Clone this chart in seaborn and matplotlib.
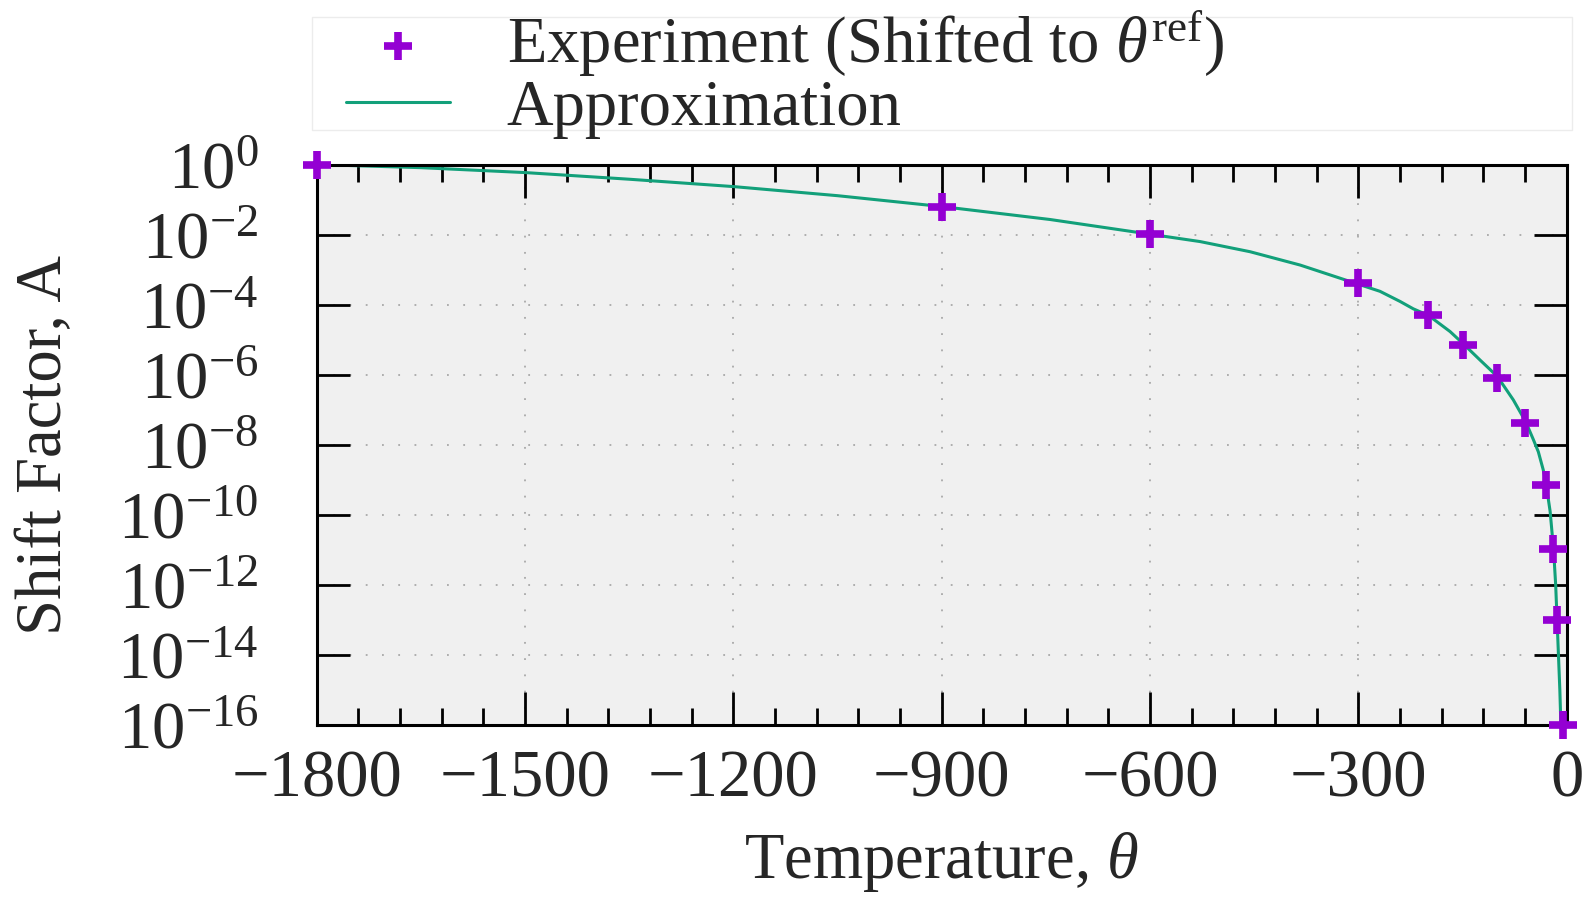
"""Shift factor vs temperature: experiment points and approximation curve."""

import matplotlib
matplotlib.use("Agg")
import matplotlib.pyplot as plt
import matplotlib.ticker as mticker
import numpy as np
import seaborn as sns
from matplotlib.patches import Rectangle

# experiment (shifted to theta_ref)
theta_exp = [-1800, -900, -600, -300, -200, -150, -100, -60, -30, -20, -14, -5]
log_a_exp = [0.0, -1.20, -1.99, -3.39, -4.30, -5.15, -6.10, -7.38, -9.14, -10.99, -13.0, -16.0]

# approximation curve, points
theta_fit = [-1800, -1650, -1500, -1350, -1200, -1050, -900, -744, -600, -528,
             -456, -384, -312, -269, -240, -221, -199, -168, -149, -125,
             -100, -77, -59, -48, -41, -34, -30, -24, -19, -16,
             -14, -12, -10, -8.5]
log_a_fit = [0.0, -0.09, -0.23, -0.42, -0.63, -0.89, -1.20, -1.57, -1.99, -2.20,
             -2.49, -2.87, -3.34, -3.62, -3.91, -4.12, -4.31, -4.77, -5.12, -5.58,
             -6.05, -6.72, -7.35, -7.86, -8.20, -8.71, -9.10, -9.90, -11.0, -12.0,
             -13.0, -14.0, -15.0, -16.0]

x_major = [-1800, -1500, -1200, -900, -600, -300, 0]
y_exp = list(range(0, -17, -2))

sns.set_style("ticks")
plt.rcParams["font.family"] = ["Liberation Serif", "DejaVu Serif"]
plt.rcParams["mathtext.fontset"] = "custom"
plt.rcParams["mathtext.rm"] = "Liberation Serif"
plt.rcParams["mathtext.it"] = "Liberation Serif:italic"
plt.rcParams["axes.unicode_minus"] = True

FS = 46.5
FS_TICK = 48
PURPLE = "#9400d3"
GREEN = "#12a07a"

fig = plt.figure(figsize=(15.9, 8.98), dpi=100)
ax = fig.add_axes([0.1992, 0.1927, 0.7862, 0.6241])
ax.set_facecolor("#f0f0f0")

a_exp = 10.0 ** np.array(log_a_exp)
a_fit = 10.0 ** np.array(log_a_fit)

sns.lineplot(x=theta_fit, y=a_fit, ax=ax, color=GREEN, lw=2.2, sort=False,
             estimator=None, label="Approximation", zorder=3)
sns.scatterplot(x=theta_exp, y=a_exp, ax=ax, marker="+", s=420, linewidth=5.5,
                color=PURPLE, label=r"Experiment (Shifted to $\theta^{\mathrm{ref}}$)",
                zorder=6, clip_on=False)

ax.set_yscale("log")
ax.set_xlim(-1800, 0)
ax.set_ylim(1e-16, 1)

ax.xaxis.set_major_locator(mticker.FixedLocator(x_major))
ax.xaxis.set_minor_locator(mticker.MultipleLocator(60))
ax.yaxis.set_major_locator(mticker.FixedLocator([10.0 ** e for e in y_exp]))
ax.yaxis.set_minor_locator(mticker.NullLocator())
ax.yaxis.set_major_formatter(mticker.LogFormatterMathtext())

ax.tick_params(which="both", direction="in", top=True, right=True, color="black",
               width=2, labelsize=FS_TICK)
ax.tick_params(which="major", length=24)
ax.tick_params(which="minor", length=12)
ax.tick_params(axis="x", which="major", pad=18)
ax.tick_params(axis="y", which="major", pad=42)

for sp in ax.spines.values():
    sp.set_color("black")
    sp.set_linewidth(2.2)
    sp.set_zorder(4)

ax.set_axisbelow(True)
ax.grid(True, which="major", color="#a8a8a8", lw=1.3, linestyle=(0, (1, 8)))

ax.set_xlabel(r"Temperature, $\theta$", fontsize=FS, labelpad=14)
ax.set_ylabel("Shift Factor, A", fontsize=FS, labelpad=30)

# faint legend box above the plot
ax.add_patch(Rectangle((-0.004, 1.0616), 1.008, 0.2016, transform=ax.transAxes,
                       facecolor="white", edgecolor="#ececec", lw=1.0,
                       clip_on=False, zorder=1))

handles, labels = ax.get_legend_handles_labels()
order = [1, 0]
leg = ax.legend([handles[i] for i in order], [labels[i] for i in order],
                loc="center left", bbox_to_anchor=(0.0234, 1.163),
                borderaxespad=0, borderpad=0, fontsize=FS, frameon=False,
                handlelength=1.61, handletextpad=0.88, labelspacing=0.0)

fig.savefig("out.png", dpi=100, facecolor="white")
